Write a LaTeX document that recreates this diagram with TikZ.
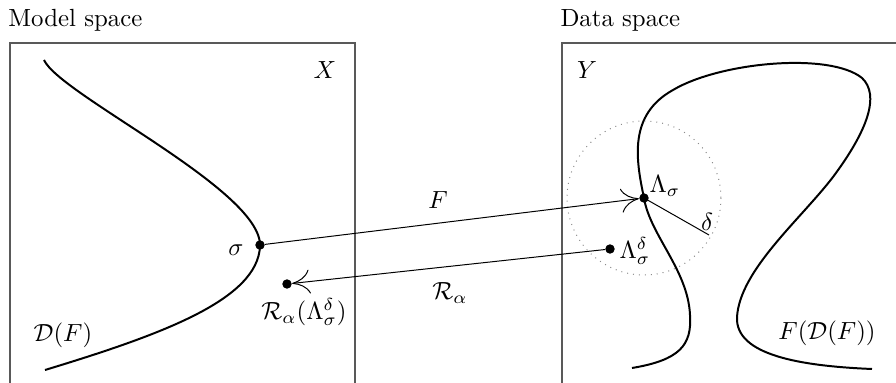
\documentclass[tikz,border=0pt]{standalone}
\usepackage{amsmath}
\usetikzlibrary{arrows.meta,positioning}

\begin{document}
\begin{tikzpicture}[
    x=0.403pt, y=-0.403pt,
    space/.style={draw=black!65, line width=0.5pt},
    curve/.style={draw, thick},
    dot/.style={circle, fill, inner sep=0pt, minimum size=3.8pt},
    map/.style={-{To[length=2.5mm,width=3.4mm]}, thin},
    ball/.style={draw=black!45, dotted, thin}
  ]
    \useasboundingbox (0,0) rectangle (896,383);
    % the two spaces
    \draw[space] (10,390) -- (10,43) -- (355,43) -- (355,390);
    \draw[space] (562,390) -- (562,43) -- (905,43);
    \node[anchor=base west, inner sep=0pt] (mlabel) at (8,27) {Model space};
    \node[anchor=base west, inner sep=0pt] (dlabel) at (560,27) {Data space};
    \node (xname) at (325,70) {$X$};
    \node (yname) at (587,70) {$Y$};

    % domain of F
    \draw[curve] (44,60) .. controls (60,95) and (262,190) .. (260,246)
      .. controls (258,300) and (160,335) .. (45,370);
    \node (dom) at (63,335) {$\mathcal{D}(F)$};

    % range of F
    \draw[curve] (632,368) .. controls (680,360) and (692,345) .. (690,315)
      .. controls (688,270) and (650,235) .. (644,198)
      .. controls (636,160) and (628,115) .. (673,90)
      .. controls (720,62) and (830,52) .. (862,78)
      .. controls (880,95) and (868,130) .. (833,177)
      .. controls (800,220) and (740,270) .. (737,317)
      .. controls (735,355) and (800,366) .. (872,369);
    \node (ran) at (827,333) {$F(\mathcal{D}(F))$};

    % points
    \node[dot] (sig) at (260,245) {};
    \node[left=1pt of sig, yshift=-2pt] (signame) {$\sigma$};
    \node[dot] (lam) at (644,198) {};
    \node (lamname) at (665,186) {$\Lambda_\sigma$};
    \node[dot] (lamd) at (610,249) {};
    \node (lamdname) at (635,251) {$\Lambda_\sigma^\delta$};
    \node[dot] (rec) at (287,284) {};
    \node (recname) at (304,312) {$\mathcal{R}_\alpha(\Lambda_\sigma^\delta)$};

    % noise ball
    \draw[ball] (lam) circle (77);
    \coordinate (rim) at (709,235);
    \draw[thin] (lam.center) -- (rim);
    \node (del) at (707,222) {$\delta$};

    % forward and reconstruction maps
    \draw[map] (sig) -- (lam);
    \node (fname) at (438,200) {$F$};
    \draw[map] (lamd) -- (rec);
    \node (rname) at (450,293) {$\mathcal{R}_\alpha$};
\end{tikzpicture}
\end{document}
